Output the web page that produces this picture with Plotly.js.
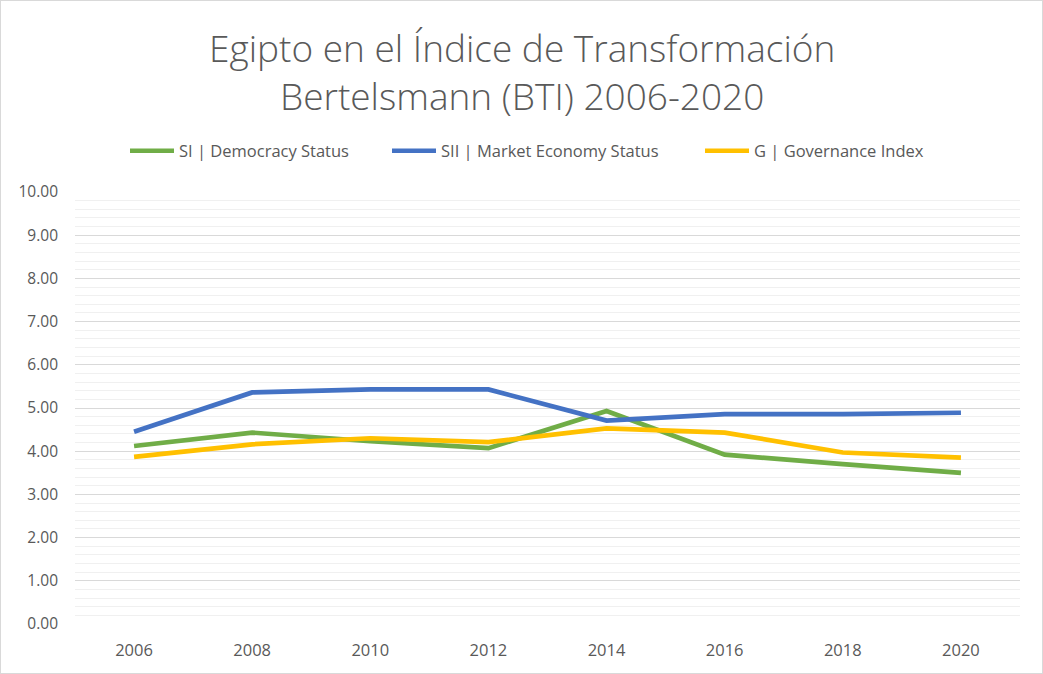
<!DOCTYPE html>
<html>
<head>
<meta charset="utf-8">
<script src="https://cdn.plot.ly/plotly-3.0.1.min.js"></script>
<style>
html,body{margin:0;padding:0;background:#fff;}
#chart{width:1041px;height:672px;border:1px solid #d9d9d9;}
</style>
</head>
<body>
<div id="chart"></div>
<script>
var years = ["2006","2008","2010","2012","2014","2016","2018","2020"];
var democracyStatus = [4.12, 4.43, 4.23, 4.07, 4.93, 3.92, 3.70, 3.50];
var marketEconomyStatus = [4.45, 5.36, 5.43, 5.43, 4.71, 4.86, 4.86, 4.89];
var governanceIndex = [3.87, 4.16, 4.30, 4.21, 4.53, 4.43, 3.97, 3.85];
var seriesNames = ["SI | Democracy Status", "SII | Market Economy Status", "G | Governance Index"];
var titleLines = ["Egipto en el Índice de Transformación", "Bertelsmann (BTI) 2006-2020"];
var yTicks = [0,1,2,3,4,5,6,7,8,9,10];

var colors = ["#70ad47", "#4472c4", "#ffc000"];
var values = [democracyStatus, marketEconomyStatus, governanceIndex];
var legendIds = ["legend", "legend2", "legend3"];

var traces = values.map(function(v, i){
  return {
    x: years, y: v, type: "scatter", mode: "lines", name: seriesNames[i],
    line: {color: colors[i], width: 4.7, shape: "linear"},
    legend: legendIds[i],
    hoverinfo: "x+y+name"
  };
});

var fontFam = "Open Sans, Liberation Sans, sans-serif";
var M = {l: 74, r: 22, t: 191, b: 49};
var W = 1041, H = 672;
var pw = W - M.l - M.r, ph = H - M.t - M.b;
function px2x(p){ return (p - 1 - M.l) / pw; }
function py2y(p){ return (H - M.b - (p - 1)) / ph; }

function legendAt(pxLeft){
  return {
    orientation: "h", x: px2x(pxLeft), xanchor: "left", y: py2y(151), yanchor: "middle",
    font: {size: 16.5, color: "#595959", family: fontFam}, bgcolor: "rgba(0,0,0,0)",
    itemwidth: 44
  };
}

var layout = {
  width: W, height: H,
  margin: M,
  paper_bgcolor: "#ffffff", plot_bgcolor: "#ffffff",
  font: {family: fontFam, color: "#595959", size: 15},
  showlegend: true,
  legend: legendAt(125),
  legend2: legendAt(387),
  legend3: legendAt(700),
  annotations: titleLines.map(function(t, i){
    return {
      text: t, xref: "paper", yref: "paper", x: px2x(522), xanchor: "center",
      y: py2y(i === 0 ? 47 : 96), yanchor: "middle", showarrow: false,
      font: {family: fontFam, size: 37, color: "#595959", weight: 300}
    };
  }),
  xaxis: {
    type: "category", range: [-0.5, 7.5], showgrid: false, zeroline: false,
    showline: false, ticks: "", ticklabelstandoff: 14,
    tickfont: {size: 16.5, color: "#595959"}, fixedrange: true
  },
  yaxis: {
    range: [0, 10], tickvals: yTicks, tickformat: ".2f",
    showgrid: true, gridcolor: "#d9d9d9", gridwidth: 1.4,
    zeroline: false, showline: false, ticks: "", ticklabelstandoff: 16,
    tickfont: {size: 15.5, color: "#595959"},
    minor: {dtick: 0.2, showgrid: true, gridcolor: "#f0f0f0", gridwidth: 1.4},
    fixedrange: true
  }
};

Plotly.newPlot("chart", traces, layout, {displayModeBar: false});
</script>
</body>
</html>
